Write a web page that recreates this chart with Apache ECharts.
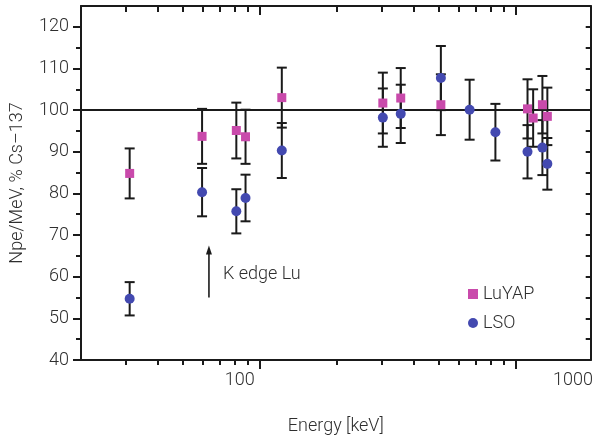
<!DOCTYPE html>
<html>
<head>
<meta charset="utf-8">
<script src="https://cdn.jsdelivr.net/npm/echarts@6/dist/echarts.min.js"></script>
<style>
html,body{margin:0;padding:0;background:#fff;}
#chart{width:596px;height:441px;}
</style>
</head>
<body>
<div id="chart"></div>
<script>
// ---- data ----
var luyapEnergy = [31, 59.5, 81, 88, 122, 303, 356, 511, 1115, 1173, 1275, 1333];
var luyapValue  = [84.8, 93.7, 95.1, 93.6, 103.0, 101.7, 102.9, 101.3, 100.3, 98.1, 101.3, 98.5];
var luyapError  = [6.0, 6.6, 6.7, 6.5, 7.2, 7.3, 7.2, 7.3, 7.1, 6.9, 6.9, 6.9];

var lsoEnergy = [31, 59.5, 81, 88, 122, 303, 356, 511, 662, 835, 1115, 1275, 1333];
var lsoValue  = [54.7, 80.3, 75.7, 78.9, 90.3, 98.2, 99.1, 107.7, 100.1, 94.7, 90.0, 91.0, 87.1];
var lsoError  = [4.0, 5.8, 5.3, 5.6, 6.6, 7.0, 7.0, 7.7, 7.2, 6.8, 6.4, 6.6, 6.2];

var referenceLevel = 100;
var kEdgeEnergy = 63.3;
var kEdgeArrowFrom = 55;
var kEdgeArrowTo = 67.5;
var kEdgeLabelY = 60.6;
var kEdgeLabel = 'K edge Lu';

var xMajorTicks = [100, 1000];
var xMinorTicks = [30, 40, 50, 60, 70, 80, 90, 200, 300, 400, 500, 600, 700, 800, 900];
var xTickLabels = [100, 1000];
var yMajorTicks = [40, 50, 60, 70, 80, 90, 100, 110, 120];
var yMinorTicks = [45, 55, 65, 75, 85, 95, 105, 115];

// ---- chart ----
var FONT = "Roboto, 'Liberation Sans', sans-serif";
var FW = 300;
var FS = 18;
var TXT = '#2e2e2e';
var INK = '#1a1a1a';
var MAGENTA = '#c94aab';
var BLUE = '#4349b0';

function errData(xs, vs, es) {
  return xs.map(function (x, i) { return [x, vs[i] - es[i], vs[i] + es[i]]; });
}
function pts(xs, vs) {
  return xs.map(function (x, i) { return [x, vs[i]]; });
}
function errRender(params, api) {
  var x = api.value(0);
  var lo = api.coord([x, api.value(1)]);
  var hi = api.coord([x, api.value(2)]);
  var w = 5;
  var st = { stroke: INK, lineWidth: 2 };
  return {
    type: 'group',
    children: [
      { type: 'line', shape: { x1: lo[0], y1: lo[1], x2: hi[0], y2: hi[1] }, style: st },
      { type: 'line', shape: { x1: lo[0] - w, y1: lo[1], x2: lo[0] + w, y2: lo[1] }, style: st },
      { type: 'line', shape: { x1: hi[0] - w, y1: hi[1], x2: hi[0] + w, y2: hi[1] }, style: st }
    ]
  };
}

var logX = { type: 'log', logBase: 10, min: 20, max: 1970, gridIndex: 0, splitLine: { show: false } };
function ax(extra) { return Object.assign({}, logX, extra); }
var textBase = { fontFamily: FONT, fontSize: FS, fontWeight: FW, color: TXT };

var chart = echarts.init(document.getElementById('chart'), null, { renderer: 'canvas' });
chart.setOption({
  animation: false,
  backgroundColor: '#fff',
  grid: { left: 81, top: 6, right: 1.5, bottom: 81 },
  legend: {
    orient: 'vertical', left: 463, top: 280, itemWidth: 10, itemHeight: 10, itemGap: 11,
    textStyle: textBase,
    data: [{ name: 'LuYAP', icon: 'rect' }, { name: 'LSO', icon: 'circle' }]
  },
  xAxis: [
    ax({ position: 'bottom',
      axisLine: { show: true, onZero: false, lineStyle: { color: INK, width: 2 } },
      axisTick: { show: true, customValues: xMajorTicks, length: 9, lineStyle: { color: INK, width: 2 } },
      axisLabel: { show: false },
      name: 'Energy [keV]', nameLocation: 'middle', nameGap: 57,
      nameTextStyle: textBase }),
    ax({ position: 'bottom', axisLine: { show: false },
      axisTick: { show: true, customValues: xMinorTicks, length: 5, lineStyle: { color: INK, width: 2 } },
      axisLabel: { show: false } }),
    ax({ position: 'top',
      axisLine: { show: true, onZero: false, lineStyle: { color: INK, width: 2 } },
      axisTick: { show: true, inside: true, customValues: xMajorTicks, length: 9, lineStyle: { color: INK, width: 2 } },
      axisLabel: { show: false } }),
    ax({ position: 'top', axisLine: { show: false },
      axisTick: { show: true, inside: true, customValues: xMinorTicks, length: 6, lineStyle: { color: INK, width: 2 } },
      axisLabel: { show: false } }),
    { type: 'log', logBase: 10, min: 33.4, max: 1130, position: 'bottom', gridIndex: 0,
      axisLine: { show: false }, axisTick: { show: false }, splitLine: { show: false },
      axisLabel: Object.assign({ show: true, customValues: xTickLabels, margin: 11,
        formatter: function (v) { return String(Math.round(v)); } }, textBase) }
  ],
  yAxis: [
    { type: 'value', min: 40, max: 125, position: 'left', splitLine: { show: false },
      axisLine: { show: true, onZero: false, lineStyle: { color: INK, width: 2 } },
      axisTick: { show: true, customValues: yMajorTicks, length: 8, lineStyle: { color: INK, width: 2 } },
      axisLabel: Object.assign({ customValues: yMajorTicks, margin: 12 }, textBase),
      name: 'Npe/MeV, % Cs\u2013137', nameLocation: 'middle', nameGap: 55, nameRotate: 90,
      nameTextStyle: textBase },
    { type: 'value', min: 40, max: 125, position: 'left', splitLine: { show: false },
      axisLine: { show: false },
      axisTick: { show: true, customValues: yMinorTicks, length: 5, lineStyle: { color: INK, width: 2 } },
      axisLabel: { show: false } },
    { type: 'value', min: 40, max: 125, position: 'right', splitLine: { show: false },
      axisLine: { show: true, onZero: false, lineStyle: { color: INK, width: 2 } },
      axisTick: { show: true, inside: true, customValues: yMajorTicks.concat(yMinorTicks), length: 5, lineStyle: { color: INK, width: 2 } },
      axisLabel: { show: false } }
  ],
  series: [
    { type: 'custom', name: 'luyapErr', xAxisIndex: 0, yAxisIndex: 0, z: 2,
      renderItem: errRender, encode: { x: 0, y: [1, 2] },
      data: errData(luyapEnergy, luyapValue, luyapError) },
    { type: 'custom', name: 'lsoErr', xAxisIndex: 0, yAxisIndex: 0, z: 2,
      renderItem: errRender, encode: { x: 0, y: [1, 2] },
      data: errData(lsoEnergy, lsoValue, lsoError) },
    { type: 'custom', name: 'kedge', xAxisIndex: 0, yAxisIndex: 0, z: 2,
      encode: { x: 0, y: [1, 2, 3] },
      data: [[kEdgeEnergy, kEdgeArrowFrom, kEdgeArrowTo, kEdgeLabelY]],
      renderItem: function (params, api) {
        var x = api.value(0);
        var a = api.coord([x, api.value(1)]);
        var b = api.coord([x, api.value(2)]);
        var t = api.coord([x, api.value(3)]);
        return { type: 'group', children: [
          { type: 'line', shape: { x1: a[0], y1: a[1], x2: b[0], y2: b[1] + 6 }, style: { stroke: INK, lineWidth: 1.6 } },
          { type: 'polygon', shape: { points: [[b[0], b[1]], [b[0] - 3, b[1] + 9], [b[0] + 3, b[1] + 9]] }, style: { fill: INK } },
          { type: 'text', x: t[0] + 14, y: t[1], style: { text: kEdgeLabel, fontFamily: FONT, fontSize: FS, fontWeight: FW, fill: TXT, verticalAlign: 'middle', align: 'left' } }
        ] };
      } },
    { type: 'line', name: 'ref', xAxisIndex: 0, yAxisIndex: 0, data: [], z: 3,
      markLine: { silent: true, symbol: ['none', 'none'], label: { show: false },
        lineStyle: { color: INK, width: 1.8, type: 'solid' },
        data: [{ yAxis: referenceLevel }] } },
    { type: 'scatter', name: 'LuYAP', xAxisIndex: 0, yAxisIndex: 0, z: 5,
      symbol: 'rect', symbolSize: 9, itemStyle: { color: MAGENTA, opacity: 1 },
      data: pts(luyapEnergy, luyapValue) },
    { type: 'scatter', name: 'LSO', xAxisIndex: 0, yAxisIndex: 0, z: 5,
      symbol: 'circle', symbolSize: 10, itemStyle: { color: BLUE, opacity: 1 },
      data: pts(lsoEnergy, lsoValue) }
  ]
});
</script>
</body>
</html>
